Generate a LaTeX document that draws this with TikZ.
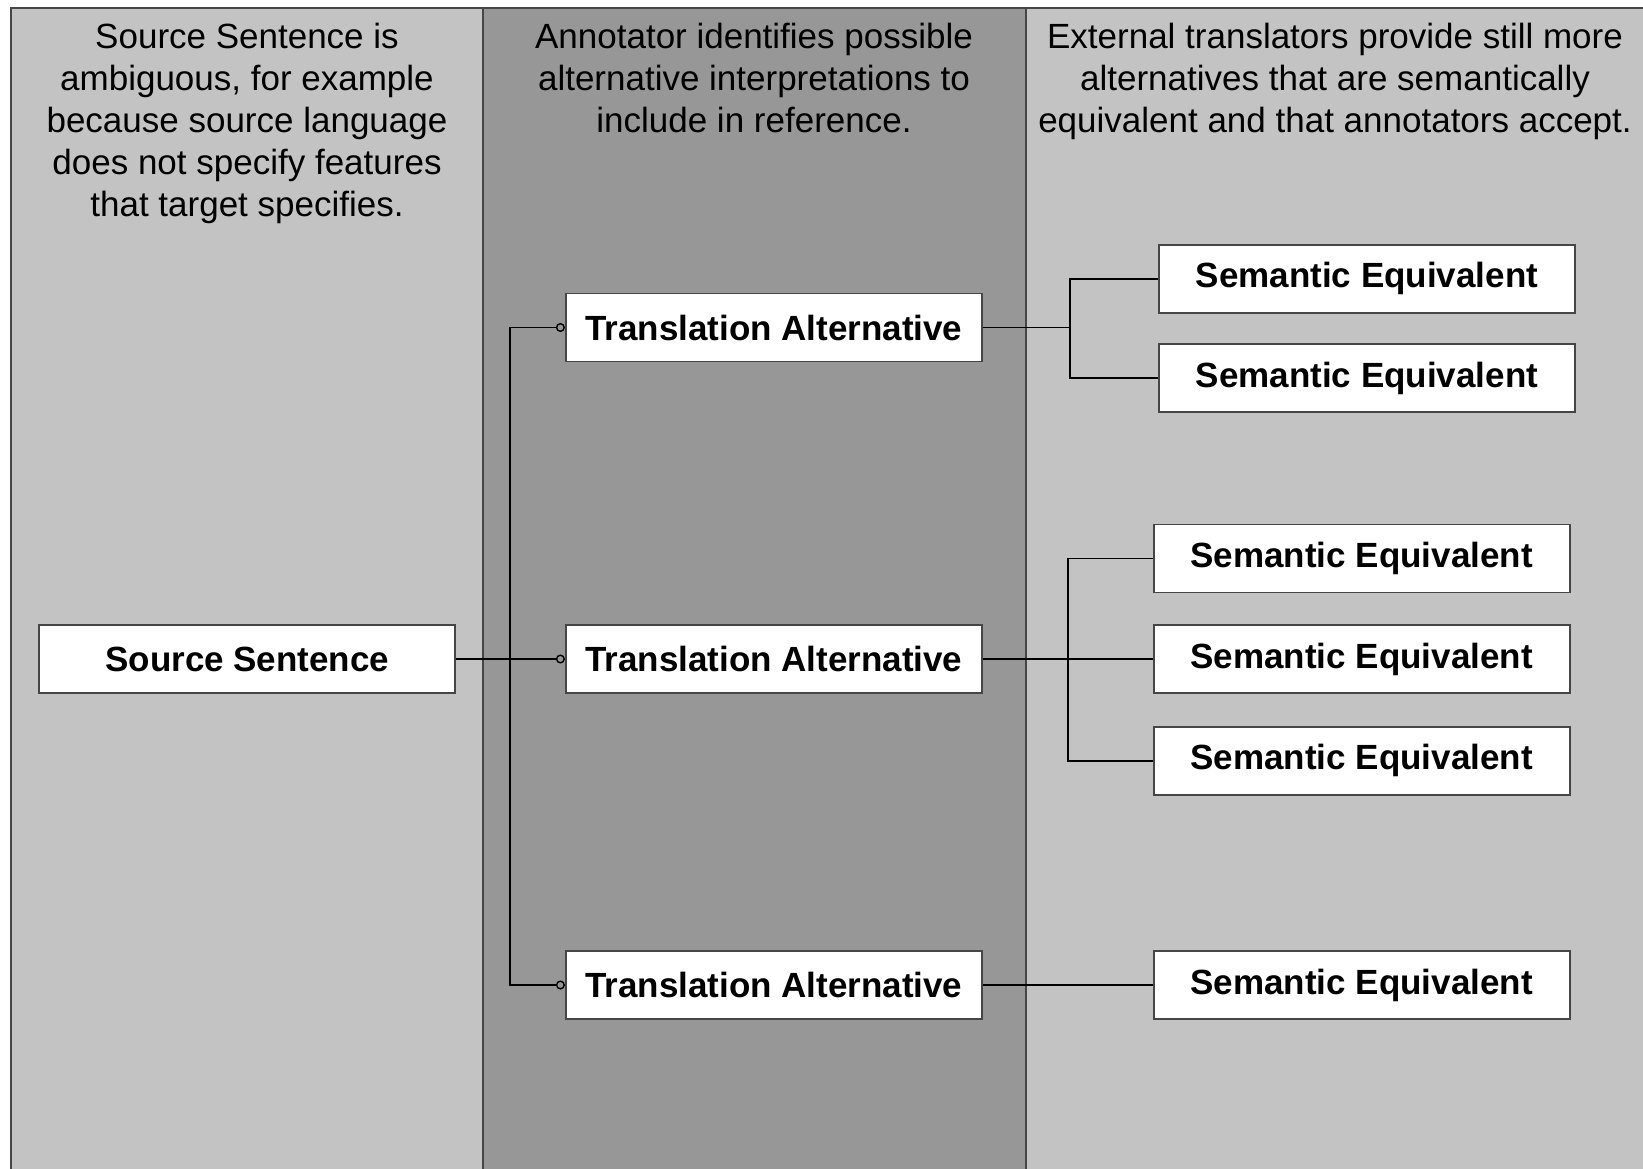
\documentclass[tikz,border=0pt]{standalone}
\usepackage{fontspec}
\setmainfont{Liberation Sans}
\usetikzlibrary{arrows.meta}
\definecolor{lanelight}{RGB}{195,195,195}
\definecolor{lanedark}{RGB}{151,151,151}
\definecolor{rimgray}{RGB}{70,70,70}
\tikzset{
  box/.style={draw=rimgray,line width=1.8pt,fill=white,minimum width=416pt,minimum height=68pt,
    inner sep=0pt,font=\fontsize{35}{42}\selectfont\bfseries},
  head/.style={align=center,inner sep=0pt,anchor=north,font=\fontsize{35}{42}\selectfont},
  link/.style={line width=1.7pt,black},
  knob/.style={link,-{Circle[open,length=9pt,width=9pt,line width=1.4pt]}}
}
\begin{document}
\begin{tikzpicture}[x=1pt,y=-1pt]
      \useasboundingbox (0,0) rectangle (1643,1169);
      % lanes
      \fill[lanelight] (11,8) rectangle (483,1175);
      \fill[lanedark] (483,8) rectangle (1026,1175);
      \fill[lanelight] (1026,8) rectangle (1650,1175);
      \draw[rimgray,line width=2pt] (11,1175) -- (11,8) -- (1650,8)
        (483,8) -- (483,1175) (1026,8) -- (1026,1175);
      % lane headings
      \draw
        (247,22.5) node[head] (h0){Source Sentence is\\ambiguous, for example\\because source language\\does not specify features\\that target specifies.}
        (754,22.5) node[head] (h1){Annotator identifies possible\\alternative interpretations to\\include in reference.}
        (1335,22.5) node[head] (h2){External translators provide still more\\alternatives that are semantically\\equivalent and that annotators accept.};
      % boxes
      \draw
        (247.3,659) node[box] (src){Source Sentence}
        (773.8,327.5) node[box] (ta1){Translation Alternative}
        (773.8,659) node[box] (ta2){Translation Alternative}
        (773.8,985) node[box] (ta3){Translation Alternative}
        (1366.9,278.7) node[box] (se1){Semantic Equivalent}
        (1366.9,378.3) node[box] (se2){Semantic Equivalent}
        (1361.6,558.5) node[box] (se3){Semantic Equivalent}
        (1361.6,659) node[box] (se4){Semantic Equivalent}
        (1361.6,760.7) node[box] (se5){Semantic Equivalent}
        (1361.6,985) node[box] (se6){Semantic Equivalent};
      \coordinate (trunk) at (510,0);
      \coordinate (fork1) at (1070,0);
      \coordinate (fork2) at (1068,0);
      \begin{scope}[knob]
        \draw (src.east) -- (ta2.west);
        \draw (src.east -| trunk) |- (ta1.west);
        \draw (src.east -| trunk) |- (ta3.west);
      \end{scope}
      \begin{scope}[link]
        \draw (ta1.east) -- (ta1.east -| fork1);
        \draw (se1.west) -| (se2.west -| fork1) -- (se2.west);
        \draw (ta2.east) -- (se4.west);
        \draw (se3.west) -| (se5.west -| fork2) -- (se5.west);
        \draw (ta3.east) -- (se6.west);
      \end{scope}
    \end{tikzpicture}
\end{document}
